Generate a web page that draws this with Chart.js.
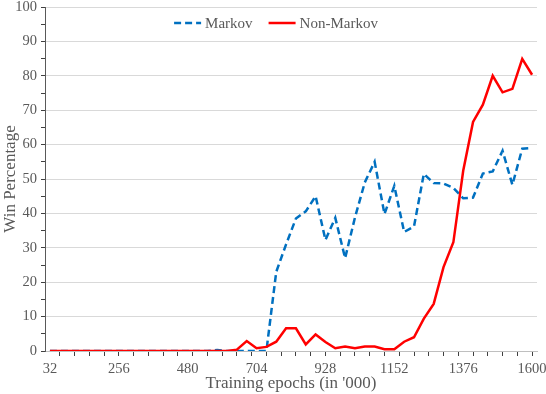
<!DOCTYPE html>
<html>
<head>
<meta charset="utf-8">
<script src="https://cdn.jsdelivr.net/npm/chart.js@4/dist/chart.umd.min.js"></script>
<style>
    html, body { margin: 0; padding: 0; background: #fff; }
    canvas { display: block; }
</style>
</head>
<body>
<canvas id="win_rate" width="546" height="394"></canvas>
<script>
const epochs = [
        32, 64, 96, 128, 160, 192, 224, 256, 288, 320,
        352, 384, 416, 448, 480, 512, 544, 576, 608, 640,
        672, 704, 736, 768, 800, 832, 864, 896, 928, 960,
        992, 1024, 1056, 1088, 1120, 1152, 1184, 1216, 1248, 1280,
        1312, 1344, 1376, 1408, 1440, 1472, 1504, 1536, 1568, 1600,
    ],
    markov = [
        0, 0, 0, 0, 0, 0, 0, 0, 0, 0,
        0, 0, 0, 0, 0, 0, 0, 0.3, 0, 0,
        0, 0, 0, 23, 31, 38.5, 40.6, 45, 32.3, 38.7,
        27, 38.8, 49, 55, 39.8, 48, 34.6, 36.2, 51.5, 48.8,
        48.7, 47.4, 44.4, 44.6, 51.6, 52.2, 58.2, 48.3, 58.8, 59,
    ],
    nonMarkov = [
        0, 0, 0, 0, 0, 0, 0, 0, 0, 0,
        0, 0, 0, 0, 0, 0, 0, 0, 0, 0.4,
        2.9, 0.8, 1.2, 2.7, 6.6, 6.6, 1.9, 4.8, 2.6, 0.8,
        1.3, 0.8, 1.3, 1.3, 0.5, 0.5, 2.7, 4, 9.4, 13.7,
        24.4, 31.6, 52.4, 66.6, 71.6, 80, 75.2, 76.2, 84.9, 80.3,
    ],
    xTickLabels = [32, 256, 480, 704, 928, 1152, 1376, 1600],
    yTickLabels = [0, 10, 20, 30, 40, 50, 60, 70, 80, 90, 100]

const serif = "'Liberation Serif', 'Times New Roman', serif",
    textColor = '#595959',
    clear = 'rgba(0,0,0,0)'

function points(values) {
    return epochs.map((e, i) => ({ x: e, y: values[i] }))
}

// legend drawn inside the plot, near the top, like the original
const innerLegend = {
    id: 'innerLegend',
    afterDatasetsDraw(chart) {
        const ctx = chart.ctx,
            area = chart.chartArea,
            sets = chart.data.datasets,
            lineW = 27,
            gap = 4,
            spacing = 16,
            y = area.top + 16
        ctx.save()
        ctx.font = '15px ' + serif
        ctx.textBaseline = 'middle'
        const widths = sets.map((ds) => ctx.measureText(ds.label).width)
        let total = spacing * (sets.length - 1)
        widths.forEach((w) => (total += lineW + gap + w))
        let x = (area.left + area.right) / 2 - 15 - total / 2
        sets.forEach((ds, i) => {
            ctx.beginPath()
            ctx.strokeStyle = ds.borderColor
            ctx.lineWidth = ds.borderWidth
            ctx.setLineDash(ds.borderDash || [])
            ctx.moveTo(x, y)
            ctx.lineTo(x + lineW, y)
            ctx.stroke()
            ctx.setLineDash([])
            ctx.fillStyle = textColor
            ctx.fillText(ds.label, x + lineW + gap, y + 1)
            x += lineW + gap + widths[i] + spacing
        })
        ctx.restore()
    },
}

new Chart(document.getElementById('win_rate'), {
    type: 'line',
    data: {
        datasets: [
            {
                label: 'Markov',
                data: points(markov),
                borderColor: '#0070c0',
                backgroundColor: '#0070c0',
                borderWidth: 2.5,
                borderDash: [7, 4],
                pointRadius: 0,
                tension: 0,
                order: 1,
            },
            {
                label: 'Non-Markov',
                data: points(nonMarkov),
                borderColor: '#ff0000',
                backgroundColor: '#ff0000',
                borderWidth: 2.5,
                pointRadius: 0,
                tension: 0,
                order: 0,
            },
        ],
    },
    options: {
        responsive: false,
        animation: false,
        layout: { padding: { top: 7, right: 9, left: 0, bottom: 0 } },
        plugins: {
            tooltip: { enabled: false },
            legend: { display: false },
        },
        scales: {
            x: {
                type: 'linear',
                min: 16,
                max: 1616,
                afterBuildTicks(axis) {
                    const vals = []
                    for (let v = 64; v <= 1600; v += 48) vals.push(v)
                    xTickLabels.forEach((v) => {
                        if (!vals.includes(v)) vals.push(v)
                    })
                    vals.sort((a, b) => a - b)
                    axis.ticks = vals.map((v) => ({ value: v }))
                },
                afterFit(axis) {
                    axis.height = 43
                    axis.paddingLeft = 0
                    axis.paddingRight = 0
                },
                ticks: {
                    autoSkip: false,
                    maxRotation: 0,
                    padding: 4,
                    color: textColor,
                    font: { family: serif, size: 14.5 },
                    callback: (v) => (xTickLabels.includes(v) ? String(v) : ''),
                },
                grid: {
                    drawOnChartArea: false,
                    tickLength: 5,
                    tickColor: (ctx) =>
                        ctx.tick && (ctx.tick.value - 16) % 48 === 0 ? '#404040' : clear,
                },
                border: { color: '#bfbfbf' },
                title: {
                    display: true,
                    text: "Training epochs (in '000)",
                    color: textColor,
                    font: { family: serif, size: 17 },
                    padding: 0,
                },
            },
            y: {
                min: 0,
                max: 100,
                afterFit(axis) {
                    axis.width = 45
                    axis.paddingTop = 0
                    axis.paddingBottom = 0
                },
                ticks: {
                    stepSize: 5,
                    autoSkip: false,
                    padding: 4,
                    color: textColor,
                    font: { family: serif, size: 14.5 },
                    callback: (v) => (yTickLabels.includes(v) ? String(v) : ''),
                },
                grid: {
                    color: (ctx) =>
                        ctx.tick && ctx.tick.value % 10 === 0 ? '#d9d9d9' : clear,
                    tickLength: 4,
                    tickColor: '#404040',
                },
                border: { color: '#595959' },
                title: {
                    display: true,
                    text: 'Win Percentage',
                    color: textColor,
                    font: { family: serif, size: 17 },
                    padding: 0,
                },
            },
        },
    },
    plugins: [innerLegend],
})
</script>
</body>
</html>
